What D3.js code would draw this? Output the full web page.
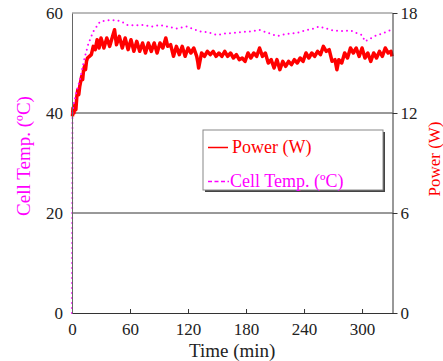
<!DOCTYPE html>
<meta charset="utf-8">
<style>
    body { margin: 0; background: #fff; }
    text { font-family: "Liberation Serif", "Times New Roman", serif; }
</style>
<svg width="443" height="361"></svg>
<script src="https://d3js.org/d3.v7.min.js"></script>
<script>
    // time (min) and cell temperature (degC), dotted magenta
    var tempTime = [0, 0.5, 2, 5, 8, 10, 13, 17, 22, 29, 35, 41, 47, 51, 57, 65, 74, 83, 91, 100, 108, 119, 125, 132, 140, 150, 158, 167, 175, 184, 194, 203, 212, 222, 232, 243, 250, 256, 263, 270, 280, 288, 294, 300, 303, 308, 312, 318, 322, 331];
    var tempVals = [0, 40, 42, 44.5, 46.5, 48.3, 51, 53.9, 56.3, 58.3, 58.5, 58.6, 58.5, 58.3, 57.6, 57.5, 57.6, 57.3, 57.6, 57.2, 56.9, 57.3, 56.8, 56.3, 56.2, 55.6, 55.9, 56, 56.2, 56.3, 56.6, 56, 55.4, 55.8, 56, 56.6, 56.9, 57.3, 56.9, 56.5, 56.4, 56.5, 56, 55.6, 54.3, 54.8, 55.3, 55.7, 56, 56.7];

    // time (min) and power (W), red, noisy trace
    var powTime = [0.5, 1, 2, 3, 4, 5, 6, 7, 8, 9, 10, 11, 12, 13, 14, 15, 16, 18, 20, 22, 24, 26, 28, 30, 33, 36, 39, 42, 44, 46, 49, 52, 55, 58, 61, 64, 67, 70, 73, 76, 79, 82, 85, 88, 91, 94, 97, 99, 102, 105, 108, 111, 114, 117, 120, 123, 126, 129, 130, 131, 132, 134, 137, 140, 143, 146, 149, 152, 155, 158, 161, 164, 167, 170, 173, 176, 179, 182, 185, 188, 191, 194, 197, 200, 203, 206, 209, 212, 215, 218, 221, 224, 227, 230, 233, 236, 239, 242, 245, 248, 251, 254, 257, 260, 263, 266, 269, 272, 274, 276, 279, 282, 285, 288, 291, 294, 297, 300, 303, 306, 309, 312, 315, 318, 321, 324, 327, 330, 331];
    var powVals = [11.8, 12.3, 12.0, 12.5, 12.2, 13.0, 13.4, 13.1, 13.6, 13.9, 14.2, 14.0, 14.6, 14.8, 14.6, 15.1, 15.3, 15.4, 15.5, 16.0, 15.8, 16.4, 15.9, 16.5, 15.9, 16.5, 16.0, 16.6, 17.0, 16.1, 16.6, 15.9, 16.5, 15.8, 16.4, 15.7, 16.3, 15.7, 16.2, 15.6, 16.2, 15.7, 16.2, 15.6, 16.2, 15.9, 16.5, 16.0, 16.1, 15.4, 16.0, 15.5, 16.0, 15.4, 15.9, 15.6, 15.9, 15.4, 15.1, 14.7, 15.0, 15.6, 15.4, 15.7, 15.5, 15.7, 15.4, 15.6, 15.4, 15.7, 15.4, 15.6, 15.3, 15.5, 15.2, 15.3, 15.1, 15.6, 15.3, 15.6, 15.4, 15.9, 15.4, 15.6, 15.0, 15.2, 14.7, 15.2, 14.6, 15.1, 14.8, 15.1, 14.9, 15.2, 15.0, 15.3, 15.1, 15.6, 15.3, 15.6, 15.4, 15.7, 15.5, 16.0, 15.7, 15.8, 15.1, 15.2, 14.6, 15.2, 15.0, 15.6, 15.3, 15.9, 15.6, 15.9, 15.4, 15.9, 15.3, 15.6, 15.1, 15.6, 15.3, 15.7, 15.4, 15.9, 15.6, 15.7, 15.4];

    var xTicks = [0, 60, 120, 180, 240, 300];
    var leftTicks = [0, 20, 40, 60];
    var rightTicks = [0, 6, 12, 18];

    var svg = d3.select("svg");
    var pLeft = 72, pRight = 392.5, pTop = 13, pBottom = 313;

    var x = d3.scaleLinear().domain([0, 331.5]).range([pLeft, pRight]);
    var yT = d3.scaleLinear().domain([0, 60]).range([pBottom, pTop]);
    var yP = d3.scaleLinear().domain([0, 18]).range([pBottom, pTop]);

    // gridlines
    svg.append("g")
        .selectAll("line")
        .data([20, 40])
        .enter().append("line")
        .attr("x1", pLeft).attr("x2", pRight)
        .attr("y1", function(d) { return yT(d); })
        .attr("y2", function(d) { return yT(d); })
        .attr("stroke", "#333").attr("stroke-width", 1);

    // frame top
    svg.append("line")
        .attr("x1", pLeft).attr("x2", pRight).attr("y1", pTop).attr("y2", pTop)
        .attr("stroke", "#777");

    // data
    var powLine = d3.line()
        .x(function(d, i) { return x(powTime[i]); })
        .y(function(d) { return yP(d); });
    svg.append("path")
        .datum(powVals)
        .attr("d", powLine)
        .attr("fill", "none")
        .attr("stroke", "#ff0000")
        .attr("stroke-width", 3.5)
        .attr("stroke-linejoin", "round");

    var tempLine = d3.line()
        .x(function(d, i) { return x(tempTime[i]); })
        .y(function(d) { return yT(d); });
    svg.append("path")
        .datum(tempVals)
        .attr("d", tempLine)
        .attr("fill", "none")
        .attr("stroke", "#ff00ff")
        .attr("stroke-width", 2)
        .attr("stroke-linecap", "round")
        .attr("stroke-dasharray", "0,5");

    // axes
    var xAxis = d3.axisBottom(x).tickValues(xTicks).tickSizeInner(-4).tickSizeOuter(0).tickPadding(10);
    var gx = svg.append("g").attr("transform", "translate(0," + pBottom + ")").call(xAxis);

    var lAxis = d3.axisLeft(yT).tickValues(leftTicks).tickSizeInner(0).tickSizeOuter(0).tickPadding(9);
    var gl = svg.append("g").attr("transform", "translate(" + pLeft + ",0)").call(lAxis);

    var rAxis = d3.axisRight(yP).tickValues(rightTicks).tickSizeInner(5).tickSizeOuter(0).tickPadding(3);
    var gr = svg.append("g").attr("transform", "translate(" + pRight + ",0)").call(rAxis);

    [gx, gl, gr].forEach(function(g) {
        g.attr("font-family", null);
        g.select(".domain").attr("stroke", "#333");
        g.selectAll(".tick line").attr("stroke", "#333");
        g.selectAll("text").attr("font-size", 17).attr("fill", "#222");
    });
    gl.select(".domain").attr("stroke", "#666");

    // axis titles
    svg.append("text")
        .attr("transform", "translate(30,156) rotate(-90)")
        .attr("text-anchor", "middle")
        .attr("font-size", 19)
        .attr("fill", "#ff00ff")
        .text("Cell Temp. (ºC)");

    svg.append("text")
        .attr("transform", "translate(440,159) rotate(-90)")
        .attr("text-anchor", "middle")
        .attr("font-size", 17)
        .attr("fill", "#ff0000")
        .text("Power (W)");

    svg.append("text")
        .attr("x", (pLeft + pRight) / 2)
        .attr("y", 357)
        .attr("text-anchor", "middle")
        .attr("font-size", 19)
        .attr("fill", "#222")
        .text("Time (min)");

    // legend
    var lg = svg.append("g");
    lg.append("rect").attr("x", 205).attr("y", 132).attr("width", 180).attr("height", 60).attr("fill", "#444");
    lg.append("rect").attr("x", 203).attr("y", 130).attr("width", 180).attr("height", 60)
        .attr("fill", "#fff").attr("stroke", "#888");
    lg.append("line").attr("x1", 208).attr("x2", 228).attr("y1", 147.5).attr("y2", 147.5)
        .attr("stroke", "#ff0000").attr("stroke-width", 1.5);
    lg.append("text").attr("x", 232).attr("y", 153).attr("font-size", 18).attr("fill", "#ff0000").text("Power (W)");
    lg.append("line").attr("x1", 208).attr("x2", 229).attr("y1", 181.5).attr("y2", 181.5)
        .attr("stroke", "#ff00ff").attr("stroke-width", 1.5).attr("stroke-dasharray", "4,2.5");
    lg.append("text").attr("x", 230).attr("y", 187).attr("font-size", 18).attr("fill", "#ff00ff").text("Cell Temp. (ºC)");
</script>
